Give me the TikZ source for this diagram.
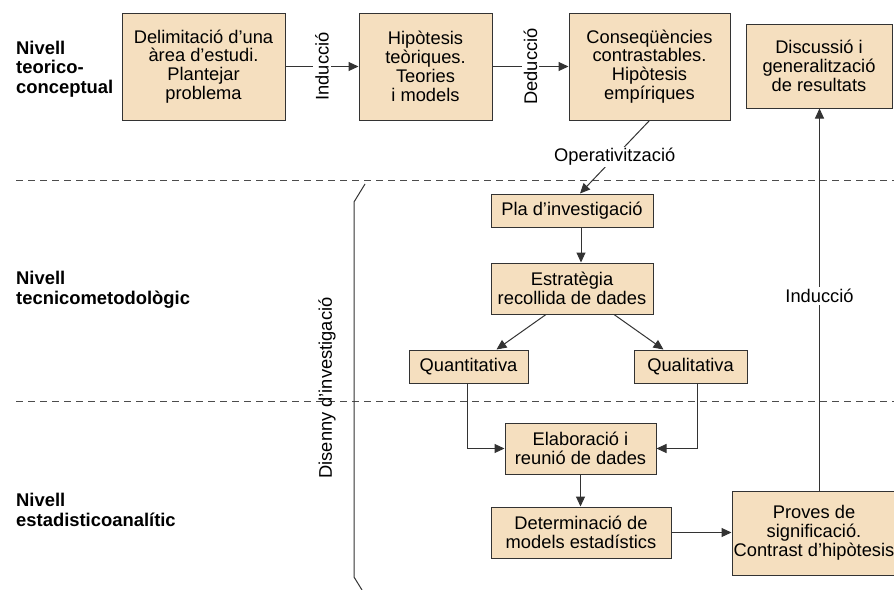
\documentclass[tikz,border=0pt]{standalone}
\usepackage{fontspec}
\setmainfont{Liberation Sans}
\usetikzlibrary{arrows.meta,calc}
\definecolor{boxfill}{HTML}{F5DFBF}
\definecolor{edge}{HTML}{333333}
\begin{document}
\begin{tikzpicture}[x=1pt,y=-1pt,
  txt/.style={font=\fontsize{18.3}{18.8}\selectfont},
  box/.style={txt, draw=edge, fill=boxfill, line width=1pt, align=center, inner sep=0pt},
  arr/.style={-{Triangle[length=10pt,width=9pt]}, line width=1pt, draw=edge},
  conn/.style={line width=1pt, draw=edge},
  lbl/.style={txt, fill=white, inner sep=2pt},
  level/.style={font=\fontsize{18.4}{19.5}\selectfont\bfseries, align=left, anchor=west, inner sep=0pt},
  dashline/.style={line width=1pt, draw=black!70, dash pattern=on 7pt off 5pt}]
\clip (0,0) rectangle (894,589);
\fill[white] (0,0) rectangle (894,589);

% dashed level separators
\draw[dashline] (16,180) -- (894,180);
\draw[dashline] (16,401) -- (894,401);

% level labels
\node[level] (lv1) at (16,69) {Nivell\\teorico-\\conceptual};
\node[level] (lv2) at (16,290) {Nivell\\tecnicometodològic};
\node[level] (lv3) at (16,510) {Nivell\\estadisticoanalític};

% boxes
\node[box, minimum width=163pt, minimum height=107pt] (b1) at (203.5,66.5) {Delimitació d’una\\àrea d’estudi.\\Plantejar\\problema};
\node[box, minimum width=133pt, minimum height=107pt] (b2) at (425.5,66.5) {Hipòtesis\\teòriques.\\Teories\\i models};
\node[box, minimum width=161pt, minimum height=107pt] (b3) at (649.5,66.5) {Conseqüències\\contrastables.\\Hipòtesis\\empíriques};
\node[box, minimum width=146pt, minimum height=84pt] (b4) at (819,66) {Discussió i\\generalització\\de resultats};
\node[box, minimum width=162pt, minimum height=33pt] (pla) at (572,210.5) {Pla d’investigació};
\node[box, minimum width=162pt, minimum height=51pt] (estrat) at (572,288.5) {Estratègia\\recollida de dades};
\node[box, minimum width=119pt, minimum height=33pt] (quant) at (468.5,366.5) {Quantitativa};
\node[box, minimum width=113pt, minimum height=33pt] (qualit) at (690.5,366.5) {Qualitativa};
\node[box, minimum width=151pt, minimum height=51pt] (elab) at (580.5,448.5) {Elaboració i\\reunió de dades};
\node[box, minimum width=180pt, minimum height=51pt] (determ) at (581,532.5) {Determinació de\\models estadístics};
\node[box, minimum width=164pt, minimum height=84pt] (proves) at (814,533) {Proves de\\significació.\\Contrast d’hipòtesis};

% bracket for research design
\coordinate (brT) at (365,184);
\coordinate (brB) at (362,590);
\draw[conn] (brT) -- (354,202) -- (354,577) -- (brB);
\node[txt, rotate=90] (disseny) at (327,388) {Disenny d’investigació};

% connectors
\draw[arr] (b1.east) -- node[lbl, rotate=90] (ind1) {Inducció} (b2.west);
\draw[arr] (b2.east) -- node[lbl, rotate=90] (ded) {Deducció} (b3.west);
\coordinate (plaIn) at ($(pla.north)+(8,0)$);
\draw[arr] (b3.south) -- node[lbl, inner sep=1pt] (oper) {Operativització} (plaIn);
\draw[arr] ($(pla.south)+(9,0)$) -- ($(estrat.north)+(9,0)$);
\draw[arr] ($(estrat.south)+(-26,0)$) -- ($(quant.north)+(28,0)$);
\draw[arr] ($(estrat.south)+(42,0)$) -- ($(qualit.north)+(-27,0)$);
\draw[arr] ($(quant.south)+(-1.5,0)$) |- (elab.west);
\draw[arr] ($(qualit.south)+(6.5,0)$) |- (elab.east);
\draw[arr] (elab.south) -- (elab.south |- determ.north);
\draw[arr] (determ.east) -- (determ.east -| proves.west);
\draw[arr] ($(b4.south |- proves.north)+(0.5,0)$) -- node[lbl, pos=0.51] (ind2) {Inducció} ($(b4.south)+(0.5,0)$);
\end{tikzpicture}
\end{document}
